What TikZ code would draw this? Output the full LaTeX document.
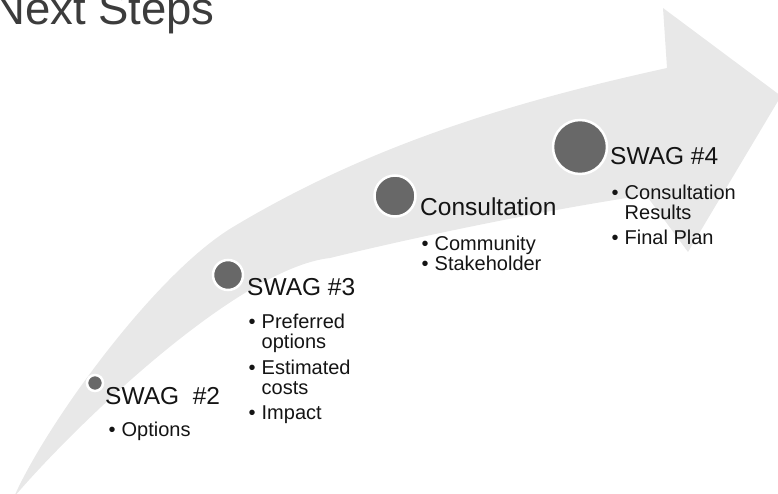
\documentclass[tikz,border=0pt]{standalone}
\usepackage{fontspec}
\setmainfont{Liberation Sans}
\definecolor{band}{RGB}{232,232,232}
\definecolor{dot}{RGB}{104,104,104}
\definecolor{ink}{RGB}{20,20,20}
\definecolor{titlegray}{RGB}{60,60,60}
\newcommand\mybul{\makebox[13pt][l]{\textbullet}}
\begin{document}
\begin{tikzpicture}[x=1pt,y=-1pt,
  dotnode/.style={circle, fill=dot, draw=white, line width=2.5pt, inner sep=0pt},
  headtxt/.style={font=\fontsize{24.5}{26}\selectfont, text=ink, inner sep=0pt, anchor=base west},
  listtxt/.style={font=\fontsize{20}{20}\selectfont, text=ink, inner sep=0pt, anchor=base west},
]
\useasboundingbox (0,0) rectangle (778,494);
\begin{scope}
\clip (0,0) rectangle (778,494);
\fill[band] (14,497) .. controls (44,428) and (153,275) .. (233,227)
  .. controls (373,143) and (517,101) .. (667,68)
  -- (663,8) -- (781,96) -- (688,252) -- (646,195)
  .. controls (546,210) and (420,236) .. (330,258)
  .. controls (240,268) and (80,420) .. (14,497) -- cycle;
\end{scope}

\node[font=\fontsize{45.5}{46}\selectfont, text=titlegray, inner sep=0pt, anchor=base west] (title) at (-8,25) {Next Steps};

\node[dotnode, minimum size=16pt] (d2) at (95,383) {};
\node[dotnode, minimum size=30pt] (d3) at (228,275) {};
\node[dotnode, minimum size=41pt] (dc) at (395,196) {};
\node[dotnode, minimum size=54pt] (d4) at (580,147) {};

\node[headtxt] (h2) at (105,404) {SWAG\ \ \#2};
\node[listtxt] (l2a) at (108.5,436) {\mybul Options};

\node[headtxt] (h3) at (247,295) {SWAG \#3};
\node[listtxt] (l3a) at (248.5,328) {\mybul Preferred};
\node[listtxt] (l3b) at (261.5,348) {options};
\node[listtxt] (l3c) at (248.5,374) {\mybul Estimated};
\node[listtxt] (l3d) at (261.5,394) {costs};
\node[listtxt] (l3e) at (248.5,419) {\mybul Impact};

\node[headtxt] (hc) at (420,215) {Consultation};
\node[listtxt] (lca) at (421.5,250) {\mybul Community};
\node[listtxt] (lcb) at (421.5,270) {\mybul Stakeholder};

\node[headtxt] (h4) at (610,165) {SWAG \#4};
\node[listtxt] (l4a) at (611.5,200) {\mybul Consultation};
\node[listtxt] (l4b) at (624.5,219) {Results};
\node[listtxt] (l4c) at (611.5,244) {\mybul Final Plan};
\end{tikzpicture}
\end{document}
